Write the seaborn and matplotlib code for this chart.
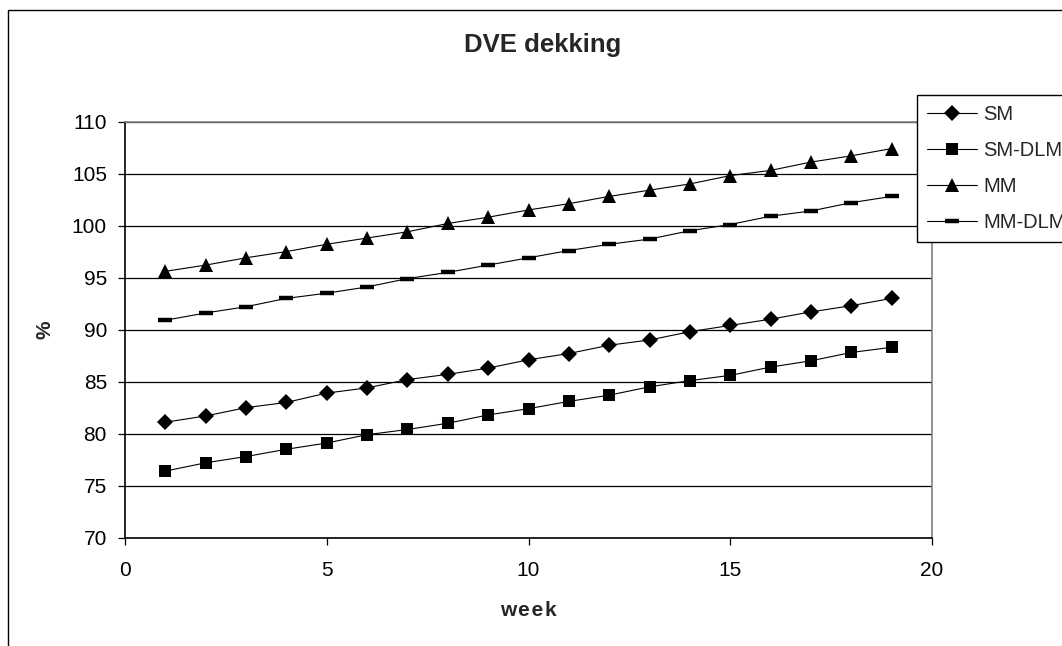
import matplotlib
matplotlib.use("Agg")
import matplotlib.pyplot as plt
import seaborn as sns
import pandas as pd
from matplotlib.lines import Line2D
from matplotlib.patches import Rectangle

weeks = list(range(1, 20))
sm = [81.1, 81.7, 82.5, 83.0, 83.9, 84.4, 85.2, 85.7, 86.3, 87.1, 87.7, 88.5, 89.0, 89.8, 90.4, 91.0, 91.7, 92.3, 93.0]
sm_dlm = [76.4, 77.2, 77.8, 78.5, 79.1, 79.9, 80.4, 81.0, 81.8, 82.4, 83.1, 83.7, 84.5, 85.1, 85.6, 86.4, 87.0, 87.8, 88.3]
mm = [95.6, 96.2, 96.9, 97.5, 98.2, 98.8, 99.4, 100.2, 100.8, 101.5, 102.1, 102.8, 103.4, 104.0, 104.8, 105.3, 106.1, 106.7, 107.4]
mm_dlm = [90.9, 91.6, 92.2, 93.0, 93.5, 94.1, 94.9, 95.5, 96.2, 96.9, 97.6, 98.2, 98.7, 99.5, 100.1, 100.9, 101.4, 102.2, 102.8]
series_names = ["SM", "SM-DLM", "MM", "MM-DLM"]
x_ticks = [0, 5, 10, 15, 20]
y_ticks = [70, 75, 80, 85, 90, 95, 100, 105, 110]

df = pd.DataFrame({
    "week": weeks * 4,
    "value": sm + sm_dlm + mm + mm_dlm,
    "series": [n for n in series_names for _ in weeks],
})

sns.set_theme(style="white")
plt.rcParams["font.family"] = ["Liberation Sans", "DejaVu Sans"]

W, H = 1062, 646
fig = plt.figure(figsize=(W / 100, H / 100), dpi=100)
ax = fig.add_axes([125 / W, 1 - 537.7 / H, (932 - 125) / W, (537.7 - 121.5) / H])

# outer chart border
fig.patches.append(Rectangle((7.5 / W, -0.1), 1.2, 1 - 10 / H + 0.1,
                             transform=fig.transFigure, fill=False,
                             edgecolor="black", linewidth=1.0))

markers = {"SM": "D", "SM-DLM": "s", "MM": "^", "MM-DLM": "_"}
msizes = {"SM": 8.0, "SM-DLM": 8.4, "MM": 10, "MM-DLM": 9.4}
mews = {"SM": 0, "SM-DLM": 0, "MM": 0, "MM-DLM": 3.2}

for name in series_names:
    sub = df[df["series"] == name]
    sns.lineplot(data=sub, x="week", y="value", ax=ax, color="black",
                 linewidth=0.8, marker=markers[name], markersize=msizes[name],
                 markeredgewidth=mews[name], markeredgecolor="black",
                 markerfacecolor="black", legend=False)

ax.set_xlim(0, 20)
ax.set_ylim(70, 110)
ax.set_xticks(x_ticks)
ax.set_yticks(y_ticks)
ax.set_xticklabels([str(v) for v in x_ticks])
ax.set_yticklabels([str(v) for v in y_ticks])
ax.yaxis.grid(True, color="#000000", linewidth=0.9)
ax.set_axisbelow(True)
ax.tick_params(axis="both", which="major", labelsize=15, colors="black",
               length=5, width=0.9, direction="out", left=True, bottom=True)
ax.tick_params(axis="y", pad=8)
ax.tick_params(axis="x", pad=12)
for s in ["top", "right"]:
    ax.spines[s].set_color("#808080")
    ax.spines[s].set_linewidth(1.2)
for s in ["left", "bottom"]:
    ax.spines[s].set_color("black")
    ax.spines[s].set_linewidth(1.2)
ax.set_xlabel("")
ax.set_ylabel("")

fig.text(543 / W, 1 - 45 / H, "DVE dekking", ha="center", va="center",
         fontsize=18.5, fontweight="bold")
fig.text(528 / W, 1 - 611 / H, "w e e k".replace(" ", "\u200a"), ha="center", va="center",
         fontsize=15, fontweight="bold")
fig.text(45 / W, 1 - 330 / H, "%", ha="center", va="center", rotation=90,
         fontsize=15, fontweight="bold")

handles = [Line2D([0], [0], color="black", linewidth=0.8, marker=markers[n],
                  markersize=msizes[n], markeredgewidth=mews[n],
                  markerfacecolor="black", markeredgecolor="black")
           for n in series_names]
leg = fig.legend(handles, series_names, loc="upper left",
                 bbox_to_anchor=(917 / W, 1 - 95 / H), bbox_transform=fig.transFigure,
                 fontsize=14.5, frameon=True, fancybox=False, framealpha=1,
                 edgecolor="black", handlelength=2.5, handletextpad=0.3,
                 labelspacing=0.85, borderpad=0.5, borderaxespad=0)
leg.get_frame().set_linewidth(1.0)

fig.savefig("out.png", dpi=100)
